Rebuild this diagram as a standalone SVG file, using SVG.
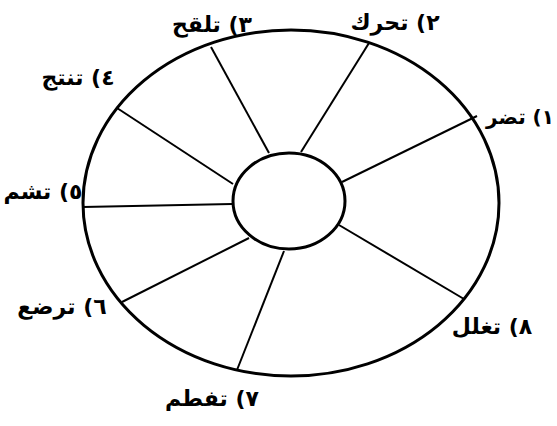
<svg xmlns="http://www.w3.org/2000/svg" width="557" height="426" viewBox="0 0 557 426">
<style>
.rim{fill:none;stroke:#000;stroke-width:3}
.hub{fill:#fff;stroke:#000;stroke-width:3}
.spoke{stroke:#000;stroke-width:2;fill:none}
.lbl{font-family:"DejaVu Sans","Noto Sans",sans-serif;font-size:22px;font-weight:bold;fill:#000;direction:rtl;text-anchor:middle}
</style>
<rect width="557" height="426" fill="#fff"/>
<g id="rim"><ellipse class="rim" cx="291" cy="203" rx="208" ry="173"/></g>
<g id="connectors">
<line class="spoke" x1="477" y1="116" x2="342" y2="182"/>
<line class="spoke" x1="369" y1="43" x2="301" y2="152"/>
<line class="spoke" x1="211" y1="47" x2="269" y2="153"/>
<line class="spoke" x1="117" y1="108" x2="233" y2="184"/>
<line class="spoke" x1="83" y1="207" x2="232" y2="204"/>
<line class="spoke" x1="122" y1="302" x2="249" y2="238"/>
<line class="spoke" x1="237" y1="370" x2="284" y2="251"/>
<line class="spoke" x1="464" y1="299" x2="339" y2="225"/>
</g>
<g id="hub"><ellipse class="hub" cx="289" cy="201" rx="56" ry="48"/></g>
<g id="label1"><text class="lbl" x="520" y="124" style="font-size:20px">١) تضر</text></g>
<g id="label2"><text class="lbl" x="395" y="30">٢) تحرك</text></g>
<g id="label3"><text class="lbl" x="212" y="32">٣) تلقح</text></g>
<g id="label4"><text class="lbl" x="78" y="85">٤) تنتج</text></g>
<g id="label5"><text class="lbl" x="43" y="199">٥) تشم</text></g>
<g id="label6"><text class="lbl" x="62" y="314">٦) ترضع</text></g>
<g id="label7"><text class="lbl" x="212" y="406">٧) تفطم</text></g>
<g id="label8"><text class="lbl" x="492" y="334">٨) تغلل</text></g>
</svg>
